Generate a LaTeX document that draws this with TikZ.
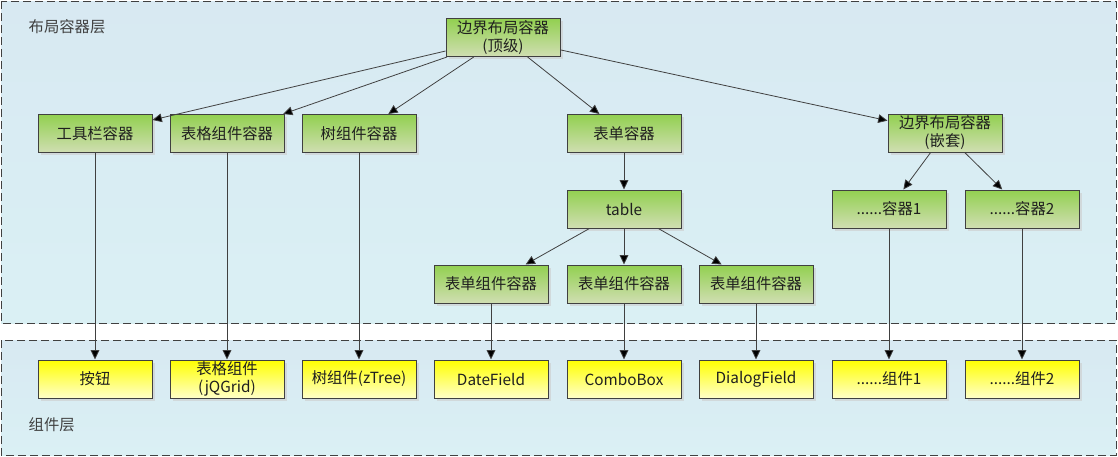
\documentclass[tikz,border=0pt]{standalone}
\usepackage{fontspec}
\setmainfont{Noto Sans CJK SC}
\usetikzlibrary{arrows.meta}
\usetikzlibrary{positioning}
\usetikzlibrary{shadows}
\definecolor{layertop}{RGB}{216,233,242}
\definecolor{layerbot}{RGB}{218,240,244}
\definecolor{greentop}{RGB}{146,208,80}
\definecolor{greenbot}{RGB}{208,222,178}
\definecolor{yellowbot}{RGB}{255,255,200}
\definecolor{linegray}{RGB}{64,64,64}
\newcommand{\boxfont}{\fontsize{11.5}{13.5}\selectfont}

\begin{document}
\begin{tikzpicture}[x=0.75pt, y=-0.75pt,
                    every node/.style={text=black!88},
                    layer/.style={draw=linegray, line width=0.75pt,
                        dash pattern=on 6pt off 3pt,
                        top color=layertop, bottom color=layerbot},
                    layerlabel/.style={anchor=west, font=\boxfont, text=black!75},
                    box/.style={draw=linegray, line width=0.75pt,
                        minimum width=85.5pt, minimum height=28.5pt,
                        inner sep=0pt, align=center, font=\boxfont,
                        drop shadow={shadow xshift=2pt, shadow yshift=-2pt,
                                     fill=black!20, opacity=0.6}},
                    container/.style={box, top color=greentop, bottom color=greenbot},
                    widget/.style={box, top color=yellow, bottom color=yellowbot},
                    link/.style={draw=linegray, line width=0.6pt,
                        -{Triangle[length=7pt, width=6.5pt]}}]

    \useasboundingbox (0,0) rectangle (1118,457);

    % layers
    \draw[layer] (1,1) rectangle (1116,323);
    \draw[layer] (1,340) rectangle (1116,455);
    \node[layerlabel] (ltop) at (24,27) {布局容器层};
    \node[layerlabel] (lbot) at (24,425) {组件层};

    % containers
    \node[container] (top)   at (503,37.5) {边界布局容器\\(顶级)};
    \node[container] (tb)    at (95,133.5)  {工具栏容器};
    \node[container] (grid)  at (227,133.5) {表格组件容器};
    \node[container] (tree)  at (359,133.5) {树组件容器};
    \node[container] (form)  at (624,133.5) {表单容器};
    \node[container] (nest)  at (945,133)   {边界布局容器\\(嵌套)};
    \node[container] (table) at (624,209)   {table};
    \node[container] (fa)    at (491,284)   {表单组件容器};
    \node[container] (fb)    at (624,284)   {表单组件容器};
    \node[container] (fc)    at (756,284)   {表单组件容器};
    \node[container] (ca)    at (889,209)   {......容器1};
    \node[container] (cb)    at (1022,209)  {......容器2};

    % widgets
    \node[widget] (btn)    at (95,379)   {按钮};
    \node[widget] (jq)     at (227,379)  {表格组件\\(jQGrid)};
    \node[widget] (zt)     at (359,379)  {树组件(zTree)};
    \node[widget] (date)   at (491,379)  {DateField};
    \node[widget] (combo)  at (624,379)  {ComboBox};
    \node[widget] (dialog) at (756,379)  {DialogField};
    \node[widget] (wa)     at (889,379)  {......组件1};
    \node[widget] (wb)     at (1022,379) {......组件2};

    \draw[link] (top)   edge (tb) edge (grid) edge (tree) edge (form) edge (nest);
    \draw[link] (form)  edge (table);
    \draw[link] (table) edge (fa) edge (fb) edge (fc);
    \draw[link] (nest)  edge (ca) edge (cb);
    \draw[link] (tb)    edge (btn);
    \draw[link] (grid)  edge (jq);
    \draw[link] (tree)  edge (zt);
    \draw[link] (fa)    edge (date);
    \draw[link] (fb)    edge (combo);
    \draw[link] (fc)    edge (dialog);
    \draw[link] (ca)    edge (wa);
    \draw[link] (cb)    edge (wb);
\end{tikzpicture}
\end{document}
